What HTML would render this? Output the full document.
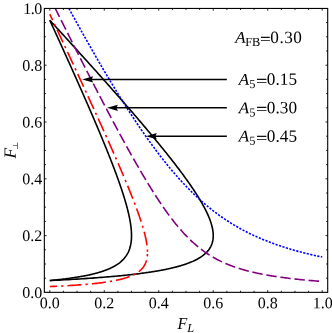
<!DOCTYPE html>
<html><head><meta charset="utf-8"><title>plot</title>
<style>html,body{margin:0;padding:0;background:#fff}svg{display:block}text{font-family:"Liberation Serif","DejaVu Serif",serif;fill:#000}</style></head><body>
<svg width="332" height="333" viewBox="0 0 332 333">
<rect width="332" height="333" fill="#fff"/>
<g fill="none" stroke-width="1.6" stroke-linejoin="round">
<path d="M49.80,20.25 L50.27,21.27 L50.92,22.70 L51.58,24.13 L52.23,25.56 L52.89,26.99 L53.54,28.42 L54.20,29.85 L54.85,31.28 L55.50,32.71 L56.16,34.14 L56.81,35.57 L57.46,37.00 L58.11,38.43 L58.76,39.86 L59.41,41.29 L60.06,42.73 L60.71,44.16 L61.36,45.59 L62.01,47.02 L62.66,48.45 L63.31,49.88 L63.96,51.31 L64.61,52.74 L65.25,54.17 L65.90,55.60 L66.55,57.03 L67.19,58.46 L67.84,59.89 L68.48,61.32 L69.13,62.75 L69.77,64.18 L70.41,65.61 L71.06,67.04 L71.70,68.47 L72.34,69.90 L72.98,71.33 L73.62,72.76 L74.26,74.19 L74.90,75.62 L75.54,77.05 L76.18,78.48 L76.81,79.91 L77.45,81.34 L78.09,82.77 L78.72,84.20 L79.36,85.63 L79.99,87.06 L80.62,88.49 L81.25,89.92 L81.89,91.35 L82.52,92.78 L83.15,94.21 L83.78,95.64 L84.40,97.07 L85.03,98.50 L85.66,99.93 L86.28,101.36 L86.91,102.79 L87.53,104.22 L88.16,105.65 L88.78,107.08 L89.40,108.52 L90.02,109.95 L90.64,111.38 L91.26,112.81 L91.87,114.24 L92.49,115.67 L93.10,117.10 L93.72,118.53 L94.33,119.96 L94.94,121.39 L95.55,122.82 L96.16,124.25 L96.76,125.68 L97.37,127.11 L97.97,128.54 L98.58,129.97 L99.18,131.40 L99.78,132.83 L100.38,134.26 L100.97,135.69 L101.57,137.12 L102.16,138.55 L102.75,139.98 L103.34,141.41 L103.93,142.84 L104.52,144.27 L105.10,145.70 L105.68,147.13 L106.26,148.56 L106.84,149.99 L107.41,151.42 L107.99,152.85 L108.56,154.28 L109.13,155.71 L109.69,157.14 L110.26,158.57 L110.82,160.00 L111.38,161.43 L111.93,162.86 L112.49,164.29 L113.03,165.72 L113.58,167.15 L114.12,168.58 L114.66,170.01 L115.20,171.44 L115.73,172.87 L116.26,174.31 L116.79,175.74 L117.31,177.17 L117.83,178.60 L118.34,180.03 L118.85,181.46 L119.35,182.89 L119.85,184.32 L120.34,185.75 L120.83,187.18 L121.32,188.61 L121.79,190.04 L122.27,191.47 L122.73,192.90 L123.19,194.33 L123.64,195.76 L124.09,197.19 L124.53,198.62 L124.96,200.05 L125.38,201.48 L125.79,202.91 L126.20,204.34 L126.59,205.77 L126.98,207.20 L127.11,207.68 L127.23,208.15 L127.36,208.63 L127.48,209.11 L127.60,209.59 L127.72,210.06 L127.84,210.54 L127.96,211.02 L128.08,211.50 L128.19,211.97 L128.31,212.45 L128.42,212.93 L128.53,213.41 L128.64,213.88 L128.75,214.36 L128.85,214.84 L128.96,215.31 L129.06,215.79 L129.17,216.27 L129.27,216.75 L129.37,217.22 L129.46,217.70 L129.56,218.18 L129.65,218.66 L129.75,219.13 L129.84,219.61 L129.92,220.09 L130.01,220.56 L130.10,221.04 L130.18,221.52 L130.26,222.00 L130.34,222.47 L130.42,222.95 L130.49,223.43 L130.56,223.91 L130.63,224.38 L130.70,224.86 L130.77,225.34 L130.83,225.82 L130.89,226.29 L130.95,226.77 L131.01,227.25 L131.06,227.72 L131.11,228.20 L131.16,228.68 L131.21,229.16 L131.25,229.63 L131.29,230.11 L131.33,230.59 L131.36,231.07 L131.39,231.54 L131.42,232.02 L131.44,232.50 L131.46,232.97 L131.48,233.45 L131.50,233.93 L131.51,234.41 L131.52,234.88 L131.52,235.36 L131.52,235.84 L131.52,236.32 L131.51,236.79 L131.50,237.27 L131.48,237.75 L131.46,238.23 L131.43,238.70 L131.40,239.18 L131.37,239.66 L131.33,240.13 L131.29,240.61 L131.24,241.09 L131.18,241.57 L131.12,242.04 L131.06,242.52 L130.99,243.00 L130.91,243.48 L130.83,243.95 L130.74,244.43 L130.65,244.91 L130.54,245.38 L130.43,245.86 L130.32,246.34 L130.20,246.82 L130.07,247.29 L129.93,247.77 L129.78,248.25 L129.63,248.73 L129.47,249.20 L129.29,249.68 L129.11,250.16 L128.92,250.64 L128.72,251.11 L128.52,251.59 L128.30,252.07 L128.07,252.54 L127.82,253.02 L127.57,253.50 L127.31,253.98 L127.03,254.45 L126.74,254.93 L126.43,255.41 L126.12,255.89 L125.78,256.36 L125.44,256.84 L125.07,257.32 L124.69,257.79 L124.30,258.27 L123.88,258.75 L123.45,259.23 L123.00,259.70 L122.53,260.18 L122.03,260.66 L121.52,261.14 L120.98,261.61 L120.42,262.09 L119.83,262.57 L119.21,263.05 L118.57,263.52 L117.90,264.00 L117.65,264.17 L117.40,264.34 L117.15,264.51 L116.89,264.68 L116.63,264.85 L116.36,265.02 L116.09,265.19 L115.82,265.36 L115.54,265.53 L115.25,265.70 L114.96,265.87 L114.67,266.04 L114.37,266.21 L114.07,266.38 L113.76,266.55 L113.44,266.71 L113.12,266.88 L112.80,267.05 L112.47,267.22 L112.13,267.39 L111.79,267.56 L111.45,267.73 L111.09,267.90 L110.73,268.07 L110.37,268.24 L110.00,268.41 L109.62,268.58 L109.23,268.75 L108.84,268.92 L108.44,269.09 L108.04,269.26 L107.63,269.43 L107.21,269.60 L106.78,269.77 L106.34,269.94 L105.90,270.11 L105.45,270.28 L104.99,270.45 L104.52,270.62 L104.05,270.79 L103.56,270.96 L103.07,271.13 L102.56,271.30 L102.05,271.47 L101.53,271.64 L100.99,271.81 L100.45,271.98 L99.90,272.14 L99.33,272.31 L98.76,272.48 L98.17,272.65 L97.58,272.82 L96.97,272.99 L96.34,273.16 L95.71,273.33 L95.06,273.50 L94.40,273.67 L93.73,273.84 L93.04,274.01 L92.34,274.18 L91.62,274.35 L90.89,274.52 L90.14,274.69 L89.38,274.86 L88.60,275.03 L87.80,275.20 L86.98,275.37 L86.15,275.54 L85.30,275.71 L84.43,275.88 L83.54,276.05 L82.63,276.22 L81.70,276.39 L80.74,276.56 L79.77,276.73 L78.77,276.90 L77.75,277.07 L76.70,277.24 L75.62,277.41 L74.52,277.57 L73.40,277.74 L72.24,277.91 L71.06,278.08 L69.84,278.25 L68.60,278.42 L67.32,278.59 L66.00,278.76 L64.66,278.93 L63.27,279.10 L61.85,279.27 L60.39,279.44 L58.88,279.61 L57.34,279.78 L55.75,279.95 L54.11,280.12 L52.43,280.29 L50.70,280.46 L49.80,280.54" stroke="#000"/>
<path d="M49.80,20.25 L50.73,21.27 L52.04,22.70 L53.35,24.13 L54.66,25.56 L55.97,26.99 L57.28,28.42 L58.59,29.85 L59.90,31.28 L61.20,32.71 L62.51,34.14 L63.82,35.57 L65.12,37.00 L66.42,38.43 L67.73,39.86 L69.03,41.29 L70.33,42.73 L71.63,44.16 L72.93,45.59 L74.23,47.02 L75.53,48.45 L76.82,49.88 L78.12,51.31 L79.41,52.74 L80.71,54.17 L82.00,55.60 L83.29,57.03 L84.59,58.46 L85.88,59.89 L87.17,61.32 L88.45,62.75 L89.74,64.18 L91.03,65.61 L92.31,67.04 L93.60,68.47 L94.88,69.90 L96.16,71.33 L97.44,72.76 L98.72,74.19 L100.00,75.62 L101.28,77.05 L102.55,78.48 L103.83,79.91 L105.10,81.34 L106.37,82.77 L107.64,84.20 L108.91,85.63 L110.18,87.06 L111.44,88.49 L112.71,89.92 L113.97,91.35 L115.23,92.78 L116.49,94.21 L117.75,95.64 L119.01,97.07 L120.26,98.50 L121.52,99.93 L122.77,101.36 L124.02,102.79 L125.27,104.22 L126.51,105.65 L127.76,107.08 L129.00,108.52 L130.24,109.95 L131.48,111.38 L132.71,112.81 L133.94,114.24 L135.18,115.67 L136.40,117.10 L137.63,118.53 L138.86,119.96 L140.08,121.39 L141.30,122.82 L142.51,124.25 L143.73,125.68 L144.94,127.11 L146.15,128.54 L147.35,129.97 L148.55,131.40 L149.75,132.83 L150.95,134.26 L152.14,135.69 L153.33,137.12 L154.52,138.55 L155.70,139.98 L156.88,141.41 L158.06,142.84 L159.23,144.27 L160.40,145.70 L161.56,147.13 L162.72,148.56 L163.88,149.99 L165.03,151.42 L166.18,152.85 L167.32,154.28 L168.46,155.71 L169.59,157.14 L170.72,158.57 L171.84,160.00 L172.95,161.43 L174.07,162.86 L175.17,164.29 L176.27,165.72 L177.36,167.15 L178.45,168.58 L179.53,170.01 L180.60,171.44 L181.67,172.87 L182.73,174.31 L183.78,175.74 L184.82,177.17 L185.85,178.60 L186.88,180.03 L187.90,181.46 L188.90,182.89 L189.90,184.32 L190.89,185.75 L191.87,187.18 L192.83,188.61 L193.79,190.04 L194.73,191.47 L195.66,192.90 L196.58,194.33 L197.49,195.76 L198.38,197.19 L199.25,198.62 L200.11,200.05 L200.96,201.48 L201.79,202.91 L202.60,204.34 L203.39,205.77 L204.16,207.20 L204.41,207.68 L204.66,208.15 L204.91,208.63 L205.16,209.11 L205.40,209.59 L205.64,210.06 L205.88,210.54 L206.12,211.02 L206.35,211.50 L206.58,211.97 L206.81,212.45 L207.04,212.93 L207.26,213.41 L207.48,213.88 L207.70,214.36 L207.91,214.84 L208.12,215.31 L208.33,215.79 L208.53,216.27 L208.73,216.75 L208.93,217.22 L209.13,217.70 L209.32,218.18 L209.51,218.66 L209.69,219.13 L209.87,219.61 L210.05,220.09 L210.22,220.56 L210.39,221.04 L210.56,221.52 L210.72,222.00 L210.88,222.47 L211.03,222.95 L211.18,223.43 L211.32,223.91 L211.47,224.38 L211.60,224.86 L211.73,225.34 L211.86,225.82 L211.98,226.29 L212.10,226.77 L212.21,227.25 L212.32,227.72 L212.42,228.20 L212.52,228.68 L212.61,229.16 L212.70,229.63 L212.78,230.11 L212.85,230.59 L212.92,231.07 L212.98,231.54 L213.04,232.02 L213.09,232.50 L213.13,232.97 L213.16,233.45 L213.19,233.93 L213.22,234.41 L213.23,234.88 L213.24,235.36 L213.24,235.84 L213.23,236.32 L213.22,236.79 L213.19,237.27 L213.16,237.75 L213.12,238.23 L213.07,238.70 L213.01,239.18 L212.94,239.66 L212.86,240.13 L212.77,240.61 L212.68,241.09 L212.57,241.57 L212.45,242.04 L212.32,242.52 L212.18,243.00 L212.02,243.48 L211.86,243.95 L211.68,244.43 L211.49,244.91 L211.29,245.38 L211.07,245.86 L210.84,246.34 L210.59,246.82 L210.33,247.29 L210.06,247.77 L209.76,248.25 L209.46,248.73 L209.13,249.20 L208.79,249.68 L208.43,250.16 L208.05,250.64 L207.65,251.11 L207.23,251.59 L206.79,252.07 L206.33,252.54 L205.85,253.02 L205.34,253.50 L204.81,253.98 L204.26,254.45 L203.67,254.93 L203.07,255.41 L202.43,255.89 L201.77,256.36 L201.07,256.84 L200.34,257.32 L199.59,257.79 L198.79,258.27 L197.96,258.75 L197.10,259.23 L196.20,259.70 L195.25,260.18 L194.26,260.66 L193.23,261.14 L192.16,261.61 L191.03,262.09 L189.86,262.57 L188.63,263.05 L187.34,263.52 L186.00,264.00 L185.51,264.17 L185.01,264.34 L184.50,264.51 L183.98,264.68 L183.46,264.85 L182.93,265.02 L182.38,265.19 L181.83,265.36 L181.27,265.53 L180.70,265.70 L180.13,265.87 L179.54,266.04 L178.94,266.21 L178.33,266.38 L177.71,266.55 L177.09,266.71 L176.45,266.88 L175.80,267.05 L175.14,267.22 L174.47,267.39 L173.78,267.56 L173.09,267.73 L172.38,267.90 L171.67,268.07 L170.94,268.24 L170.19,268.41 L169.44,268.58 L168.67,268.75 L167.88,268.92 L167.09,269.09 L166.28,269.26 L165.45,269.43 L164.61,269.60 L163.76,269.77 L162.89,269.94 L162.00,270.11 L161.10,270.28 L160.18,270.45 L159.24,270.62 L158.29,270.79 L157.32,270.96 L156.33,271.13 L155.33,271.30 L154.30,271.47 L153.25,271.64 L152.19,271.81 L151.10,271.98 L150.00,272.14 L148.87,272.31 L147.72,272.48 L146.55,272.65 L145.35,272.82 L144.13,272.99 L142.89,273.16 L141.62,273.33 L140.33,273.50 L139.00,273.67 L137.66,273.84 L136.28,274.01 L134.88,274.18 L133.44,274.35 L131.98,274.52 L130.48,274.69 L128.95,274.86 L127.39,275.03 L125.80,275.20 L124.17,275.37 L122.50,275.54 L120.80,275.71 L119.06,275.88 L117.28,276.05 L115.46,276.22 L113.59,276.39 L111.69,276.56 L109.73,276.73 L107.74,276.90 L105.69,277.07 L103.60,277.24 L101.45,277.41 L99.25,277.57 L97.00,277.74 L94.69,277.91 L92.32,278.08 L89.89,278.25 L87.39,278.42 L84.83,278.59 L82.21,278.76 L79.51,278.93 L76.74,279.10 L73.90,279.27 L70.97,279.44 L67.97,279.61 L64.88,279.78 L61.70,279.95 L58.43,280.12 L55.06,280.29 L51.59,280.46 L49.80,280.54" stroke="#000"/>
<path d="M68.87,8.40 L69.65,9.83 L70.43,11.26 L71.22,12.69 L72.00,14.12 L72.79,15.55 L73.58,16.98 L74.37,18.41 L75.16,19.84 L75.95,21.27 L76.74,22.70 L77.53,24.13 L78.33,25.56 L79.12,26.99 L79.92,28.42 L80.71,29.85 L81.51,31.28 L82.31,32.71 L83.11,34.14 L83.92,35.57 L84.72,37.00 L85.53,38.43 L86.33,39.86 L87.14,41.29 L87.95,42.73 L88.76,44.16 L89.57,45.59 L90.39,47.02 L91.20,48.45 L92.02,49.88 L92.84,51.31 L93.66,52.74 L94.48,54.17 L95.30,55.60 L96.13,57.03 L96.95,58.46 L97.78,59.89 L98.61,61.32 L99.44,62.75 L100.28,64.18 L101.11,65.61 L101.95,67.04 L102.79,68.47 L103.63,69.90 L104.48,71.33 L105.32,72.76 L106.17,74.19 L107.02,75.62 L107.87,77.05 L108.72,78.48 L109.58,79.91 L110.44,81.34 L111.30,82.77 L112.16,84.20 L113.03,85.63 L113.90,87.06 L114.77,88.49 L115.64,89.92 L116.52,91.35 L117.40,92.78 L118.28,94.21 L119.16,95.64 L120.05,97.07 L120.94,98.50 L121.83,99.93 L122.73,101.36 L123.63,102.79 L124.53,104.22 L125.44,105.65 L126.35,107.08 L127.26,108.52 L128.18,109.95 L129.10,111.38 L130.02,112.81 L130.95,114.24 L131.88,115.67 L132.82,117.10 L133.76,118.53 L134.70,119.96 L135.65,121.39 L136.61,122.82 L137.56,124.25 L138.52,125.68 L139.49,127.11 L140.46,128.54 L141.44,129.97 L142.42,131.40 L143.41,132.83 L144.40,134.26 L145.40,135.69 L146.41,137.12 L147.42,138.55 L148.43,139.98 L149.45,141.41 L150.48,142.84 L151.52,144.27 L152.56,145.70 L153.61,147.13 L154.67,148.56 L155.73,149.99 L156.80,151.42 L157.88,152.85 L158.97,154.28 L160.07,155.71 L161.17,157.14 L162.28,158.57 L163.41,160.00 L164.54,161.43 L165.68,162.86 L166.83,164.29 L168.00,165.72 L169.17,167.15 L170.36,168.58 L171.55,170.01 L172.76,171.44 L173.99,172.87 L175.22,174.31 L176.47,175.74 L177.73,177.17 L179.01,178.60 L180.30,180.03 L181.61,181.46 L182.93,182.89 L184.27,184.32 L185.63,185.75 L187.00,187.18 L188.40,188.61 L189.81,190.04 L191.25,191.47 L192.71,192.90 L194.18,194.33 L195.69,195.76 L197.22,197.19 L198.77,198.62 L200.35,200.05 L201.96,201.48 L203.59,202.91 L205.26,204.34 L206.96,205.77 L208.70,207.20 L209.29,207.68 L209.88,208.15 L210.47,208.63 L211.07,209.11 L211.68,209.59 L212.28,210.06 L212.90,210.54 L213.51,211.02 L214.14,211.50 L214.76,211.97 L215.39,212.45 L216.03,212.93 L216.67,213.41 L217.31,213.88 L217.96,214.36 L218.62,214.84 L219.28,215.31 L219.95,215.79 L220.62,216.27 L221.30,216.75 L221.98,217.22 L222.67,217.70 L223.37,218.18 L224.07,218.66 L224.77,219.13 L225.49,219.61 L226.21,220.09 L226.93,220.56 L227.67,221.04 L228.41,221.52 L229.15,222.00 L229.91,222.47 L230.67,222.95 L231.44,223.43 L232.21,223.91 L233.00,224.38 L233.79,224.86 L234.59,225.34 L235.40,225.82 L236.21,226.29 L237.04,226.77 L237.87,227.25 L238.71,227.72 L239.56,228.20 L240.43,228.68 L241.30,229.16 L242.18,229.63 L243.07,230.11 L243.97,230.59 L244.88,231.07 L245.80,231.54 L246.73,232.02 L247.67,232.50 L248.63,232.97 L249.60,233.45 L250.57,233.93 L251.57,234.41 L252.57,234.88 L253.59,235.36 L254.62,235.84 L255.66,236.32 L256.72,236.79 L257.79,237.27 L258.88,237.75 L259.98,238.23 L261.10,238.70 L262.23,239.18 L263.38,239.66 L264.55,240.13 L265.73,240.61 L266.93,241.09 L268.15,241.57 L269.39,242.04 L270.65,242.52 L271.93,243.00 L273.22,243.48 L274.54,243.95 L275.88,244.43 L277.25,244.91 L278.63,245.38 L280.05,245.86 L281.48,246.34 L282.94,246.82 L284.43,247.29 L285.94,247.77 L287.48,248.25 L289.05,248.73 L290.65,249.20 L292.28,249.68 L293.94,250.16 L295.63,250.64 L297.36,251.11 L299.12,251.59 L300.92,252.07 L302.76,252.54 L304.64,253.02 L306.55,253.50 L308.51,253.98 L310.51,254.45 L312.56,254.93 L314.65,255.41 L316.80,255.89 L318.99,256.36 L321.23,256.84 L322.20,257.04" stroke="#0000ff" stroke-dasharray="2.2 1.41" stroke-dashoffset="0"/>
<path d="M55.25,8.40 L55.96,9.83 L56.68,11.26 L57.39,12.69 L58.10,14.12 L58.82,15.55 L59.53,16.98 L60.25,18.41 L60.96,19.84 L61.68,21.27 L62.40,22.70 L63.11,24.13 L63.83,25.56 L64.55,26.99 L65.26,28.42 L65.98,29.85 L66.70,31.28 L67.42,32.71 L68.14,34.14 L68.86,35.57 L69.58,37.00 L70.30,38.43 L71.02,39.86 L71.74,41.29 L72.46,42.73 L73.18,44.16 L73.90,45.59 L74.62,47.02 L75.35,48.45 L76.07,49.88 L76.79,51.31 L77.52,52.74 L78.24,54.17 L78.97,55.60 L79.69,57.03 L80.42,58.46 L81.15,59.89 L81.87,61.32 L82.60,62.75 L83.33,64.18 L84.06,65.61 L84.79,67.04 L85.52,68.47 L86.25,69.90 L86.98,71.33 L87.71,72.76 L88.44,74.19 L89.17,75.62 L89.91,77.05 L90.64,78.48 L91.38,79.91 L92.11,81.34 L92.85,82.77 L93.58,84.20 L94.32,85.63 L95.06,87.06 L95.80,88.49 L96.54,89.92 L97.28,91.35 L98.02,92.78 L98.76,94.21 L99.50,95.64 L100.25,97.07 L100.99,98.50 L101.74,99.93 L102.48,101.36 L103.23,102.79 L103.98,104.22 L104.73,105.65 L105.48,107.08 L106.23,108.52 L106.98,109.95 L107.73,111.38 L108.49,112.81 L109.24,114.24 L110.00,115.67 L110.75,117.10 L111.51,118.53 L112.27,119.96 L113.03,121.39 L113.80,122.82 L114.56,124.25 L115.32,125.68 L116.09,127.11 L116.86,128.54 L117.63,129.97 L118.40,131.40 L119.17,132.83 L119.94,134.26 L120.72,135.69 L121.50,137.12 L122.27,138.55 L123.05,139.98 L123.84,141.41 L124.62,142.84 L125.41,144.27 L126.19,145.70 L126.98,147.13 L127.77,148.56 L128.57,149.99 L129.36,151.42 L130.16,152.85 L130.96,154.28 L131.77,155.71 L132.57,157.14 L133.38,158.57 L134.19,160.00 L135.01,161.43 L135.82,162.86 L136.64,164.29 L137.46,165.72 L138.29,167.15 L139.12,168.58 L139.95,170.01 L140.78,171.44 L141.62,172.87 L142.47,174.31 L143.31,175.74 L144.16,177.17 L145.02,178.60 L145.88,180.03 L146.74,181.46 L147.61,182.89 L148.48,184.32 L149.36,185.75 L150.24,187.18 L151.13,188.61 L152.02,190.04 L152.92,191.47 L153.83,192.90 L154.74,194.33 L155.66,195.76 L156.59,197.19 L157.52,198.62 L158.46,200.05 L159.41,201.48 L160.37,202.91 L161.34,204.34 L162.31,205.77 L163.30,207.20 L163.63,207.68 L163.96,208.15 L164.30,208.63 L164.63,209.11 L164.97,209.59 L165.31,210.06 L165.64,210.54 L165.98,211.02 L166.32,211.50 L166.67,211.97 L167.01,212.45 L167.36,212.93 L167.70,213.41 L168.05,213.88 L168.40,214.36 L168.75,214.84 L169.10,215.31 L169.46,215.79 L169.81,216.27 L170.17,216.75 L170.53,217.22 L170.89,217.70 L171.25,218.18 L171.61,218.66 L171.98,219.13 L172.35,219.61 L172.72,220.09 L173.09,220.56 L173.46,221.04 L173.84,221.52 L174.21,222.00 L174.59,222.47 L174.97,222.95 L175.36,223.43 L175.74,223.91 L176.13,224.38 L176.52,224.86 L176.91,225.34 L177.30,225.82 L177.70,226.29 L178.10,226.77 L178.50,227.25 L178.91,227.72 L179.31,228.20 L179.72,228.68 L180.13,229.16 L180.55,229.63 L180.97,230.11 L181.39,230.59 L181.81,231.07 L182.24,231.54 L182.67,232.02 L183.10,232.50 L183.54,232.97 L183.98,233.45 L184.42,233.93 L184.87,234.41 L185.32,234.88 L185.77,235.36 L186.23,235.84 L186.69,236.32 L187.16,236.79 L187.63,237.27 L188.10,237.75 L188.58,238.23 L189.06,238.70 L189.55,239.18 L190.04,239.66 L190.54,240.13 L191.04,240.61 L191.55,241.09 L192.06,241.57 L192.58,242.04 L193.10,242.52 L193.63,243.00 L194.16,243.48 L194.70,243.95 L195.25,244.43 L195.80,244.91 L196.36,245.38 L196.93,245.86 L197.50,246.34 L198.08,246.82 L198.67,247.29 L199.27,247.77 L199.87,248.25 L200.48,248.73 L201.10,249.20 L201.73,249.68 L202.37,250.16 L203.02,250.64 L203.67,251.11 L204.34,251.59 L205.02,252.07 L205.71,252.54 L206.41,253.02 L207.12,253.50 L207.84,253.98 L208.58,254.45 L209.32,254.93 L210.09,255.41 L210.86,255.89 L211.65,256.36 L212.46,256.84 L213.28,257.32 L214.12,257.79 L214.97,258.27 L215.84,258.75 L216.73,259.23 L217.64,259.70 L218.57,260.18 L219.52,260.66 L220.50,261.14 L221.49,261.61 L222.51,262.09 L223.56,262.57 L224.63,263.05 L225.73,263.52 L226.86,264.00 L227.27,264.17 L227.68,264.34 L228.10,264.51 L228.52,264.68 L228.94,264.85 L229.37,265.02 L229.81,265.19 L230.25,265.36 L230.69,265.53 L231.14,265.70 L231.59,265.87 L232.04,266.04 L232.51,266.21 L232.97,266.38 L233.44,266.55 L233.92,266.71 L234.40,266.88 L234.89,267.05 L235.38,267.22 L235.88,267.39 L236.39,267.56 L236.90,267.73 L237.41,267.90 L237.93,268.07 L238.46,268.24 L239.00,268.41 L239.54,268.58 L240.08,268.75 L240.64,268.92 L241.20,269.09 L241.77,269.26 L242.34,269.43 L242.93,269.60 L243.52,269.77 L244.11,269.94 L244.72,270.11 L245.33,270.28 L245.96,270.45 L246.59,270.62 L247.22,270.79 L247.87,270.96 L248.53,271.13 L249.20,271.30 L249.87,271.47 L250.56,271.64 L251.25,271.81 L251.96,271.98 L252.67,272.14 L253.40,272.31 L254.14,272.48 L254.89,272.65 L255.65,272.82 L256.42,272.99 L257.20,273.16 L258.00,273.33 L258.81,273.50 L259.63,273.67 L260.47,273.84 L261.32,274.01 L262.19,274.18 L263.07,274.35 L263.96,274.52 L264.87,274.69 L265.80,274.86 L266.74,275.03 L267.70,275.20 L268.68,275.37 L269.68,275.54 L270.69,275.71 L271.72,275.88 L272.78,276.05 L273.85,276.22 L274.94,276.39 L276.06,276.56 L277.20,276.73 L278.36,276.90 L279.55,277.07 L280.76,277.24 L281.99,277.41 L283.26,277.57 L284.55,277.74 L285.86,277.91 L287.21,278.08 L288.59,278.25 L290.00,278.42 L291.44,278.59 L292.92,278.76 L294.43,278.93 L295.97,279.10 L297.56,279.27 L299.18,279.44 L300.85,279.61 L302.56,279.78 L304.31,279.95 L306.11,280.12 L307.96,280.29 L309.85,280.46 L311.80,280.63 L313.81,280.80 L315.87,280.97 L317.99,281.14 L320.17,281.31 L322.20,281.46" stroke="#800080" stroke-dasharray="10.45 3.75" stroke-dashoffset="1.0"/>
<path d="M49.80,14.20 L50.44,15.55 L51.11,16.98 L51.78,18.41 L52.45,19.84 L53.12,21.27 L53.79,22.70 L54.46,24.13 L55.13,25.56 L55.80,26.99 L56.47,28.42 L57.14,29.85 L57.81,31.28 L58.48,32.71 L59.15,34.14 L59.82,35.57 L60.49,37.00 L61.16,38.43 L61.83,39.86 L62.49,41.29 L63.16,42.73 L63.83,44.16 L64.50,45.59 L65.17,47.02 L65.83,48.45 L66.50,49.88 L67.17,51.31 L67.83,52.74 L68.50,54.17 L69.17,55.60 L69.83,57.03 L70.50,58.46 L71.17,59.89 L71.83,61.32 L72.50,62.75 L73.16,64.18 L73.82,65.61 L74.49,67.04 L75.15,68.47 L75.82,69.90 L76.48,71.33 L77.14,72.76 L77.81,74.19 L78.47,75.62 L79.13,77.05 L79.79,78.48 L80.45,79.91 L81.12,81.34 L81.78,82.77 L82.44,84.20 L83.10,85.63 L83.76,87.06 L84.42,88.49 L85.08,89.92 L85.73,91.35 L86.39,92.78 L87.05,94.21 L87.71,95.64 L88.37,97.07 L89.02,98.50 L89.68,99.93 L90.33,101.36 L90.99,102.79 L91.64,104.22 L92.30,105.65 L92.95,107.08 L93.61,108.52 L94.26,109.95 L94.91,111.38 L95.56,112.81 L96.21,114.24 L96.87,115.67 L97.52,117.10 L98.16,118.53 L98.81,119.96 L99.46,121.39 L100.11,122.82 L100.76,124.25 L101.40,125.68 L102.05,127.11 L102.69,128.54 L103.34,129.97 L103.98,131.40 L104.63,132.83 L105.27,134.26 L105.91,135.69 L106.55,137.12 L107.19,138.55 L107.83,139.98 L108.47,141.41 L109.10,142.84 L109.74,144.27 L110.37,145.70 L111.01,147.13 L111.64,148.56 L112.27,149.99 L112.90,151.42 L113.53,152.85 L114.16,154.28 L114.79,155.71 L115.41,157.14 L116.04,158.57 L116.66,160.00 L117.28,161.43 L117.90,162.86 L118.52,164.29 L119.14,165.72 L119.76,167.15 L120.37,168.58 L120.99,170.01 L121.60,171.44 L122.21,172.87 L122.81,174.31 L123.42,175.74 L124.02,177.17 L124.62,178.60 L125.22,180.03 L125.82,181.46 L126.42,182.89 L127.01,184.32 L127.60,185.75 L128.19,187.18 L128.77,188.61 L129.35,190.04 L129.93,191.47 L130.51,192.90 L131.08,194.33 L131.65,195.76 L132.21,197.19 L132.78,198.62 L133.33,200.05 L133.89,201.48 L134.44,202.91 L134.98,204.34 L135.52,205.77 L136.06,207.20 L136.24,207.68 L136.41,208.15 L136.59,208.63 L136.77,209.11 L136.94,209.59 L137.12,210.06 L137.29,210.54 L137.47,211.02 L137.64,211.50 L137.81,211.97 L137.98,212.45 L138.15,212.93 L138.32,213.41 L138.49,213.88 L138.66,214.36 L138.83,214.84 L139.00,215.31 L139.16,215.79 L139.33,216.27 L139.49,216.75 L139.66,217.22 L139.82,217.70 L139.98,218.18 L140.14,218.66 L140.30,219.13 L140.46,219.61 L140.62,220.09 L140.78,220.56 L140.94,221.04 L141.09,221.52 L141.25,222.00 L141.40,222.47 L141.55,222.95 L141.71,223.43 L141.86,223.91 L142.01,224.38 L142.16,224.86 L142.30,225.34 L142.45,225.82 L142.59,226.29 L142.74,226.77 L142.88,227.25 L143.02,227.72 L143.16,228.20 L143.30,228.68 L143.44,229.16 L143.57,229.63 L143.71,230.11 L143.84,230.59 L143.97,231.07 L144.10,231.54 L144.23,232.02 L144.36,232.50 L144.48,232.97 L144.61,233.45 L144.73,233.93 L144.85,234.41 L144.97,234.88 L145.08,235.36 L145.20,235.84 L145.31,236.32 L145.42,236.79 L145.53,237.27 L145.63,237.75 L145.74,238.23 L145.84,238.70 L145.94,239.18 L146.04,239.66 L146.13,240.13 L146.23,240.61 L146.32,241.09 L146.40,241.57 L146.49,242.04 L146.57,242.52 L146.65,243.00 L146.72,243.48 L146.80,243.95 L146.87,244.43 L146.93,244.91 L147.00,245.38 L147.06,245.86 L147.11,246.34 L147.17,246.82 L147.22,247.29 L147.26,247.77 L147.30,248.25 L147.34,248.73 L147.37,249.20 L147.40,249.68 L147.43,250.16 L147.45,250.64 L147.46,251.11 L147.47,251.59 L147.48,252.07 L147.48,252.24" stroke="#ff0000" stroke-dasharray="14.02 4.10 2.25 4.10" stroke-dashoffset="7.4"/>
<path d="M49.80,286.60 L50.55,286.57 L54.22,286.40 L57.68,286.23 L60.95,286.06 L64.05,285.89 L66.99,285.72 L69.78,285.55 L72.43,285.38 L74.95,285.21 L77.35,285.04 L79.63,284.87 L81.82,284.70 L83.90,284.53 L85.90,284.36 L87.81,284.19 L89.63,284.02 L91.39,283.85 L93.07,283.68 L94.68,283.51 L96.23,283.34 L97.72,283.17 L99.15,283.00 L100.53,282.84 L101.86,282.67 L103.14,282.50 L104.38,282.33 L105.57,282.16 L106.72,281.99 L107.82,281.82 L108.90,281.65 L109.93,281.48 L110.94,281.31 L111.91,281.14 L112.84,280.97 L113.75,280.80 L114.63,280.63 L115.48,280.46 L116.31,280.29 L117.11,280.12 L117.89,279.95 L118.64,279.78 L119.38,279.61 L120.09,279.44 L120.78,279.27 L121.45,279.10 L122.10,278.93 L122.73,278.76 L123.35,278.59 L123.95,278.42 L124.53,278.25 L125.10,278.08 L125.65,277.91 L126.18,277.74 L126.71,277.57 L127.22,277.41 L127.71,277.24 L128.20,277.07 L128.67,276.90 L129.13,276.73 L129.57,276.56 L130.01,276.39 L130.43,276.22 L130.85,276.05 L131.25,275.88 L131.65,275.71 L132.03,275.54 L132.41,275.37 L132.78,275.20 L133.13,275.03 L133.48,274.86 L133.82,274.69 L134.16,274.52 L134.48,274.35 L134.80,274.18 L135.11,274.01 L135.41,273.84 L135.71,273.67 L136.00,273.50 L136.28,273.33 L136.56,273.16 L136.83,272.99 L137.09,272.82 L137.35,272.65 L137.60,272.48 L137.85,272.31 L138.09,272.14 L138.33,271.98 L138.56,271.81 L138.78,271.64 L139.01,271.47 L139.22,271.30 L139.43,271.13 L139.64,270.96 L139.84,270.79 L140.04,270.62 L140.23,270.45 L140.42,270.28 L140.60,270.11 L140.79,269.94 L140.96,269.77 L141.14,269.60 L141.30,269.43 L141.47,269.26 L141.63,269.09 L141.79,268.92 L141.95,268.75 L142.10,268.58 L142.25,268.41 L142.39,268.24 L142.53,268.07 L142.67,267.90 L142.81,267.73 L142.94,267.56 L143.07,267.39 L143.20,267.22 L143.32,267.05 L143.44,266.88 L143.56,266.71 L143.68,266.55 L143.79,266.38 L143.90,266.21 L144.01,266.04 L144.12,265.87 L144.22,265.70 L144.32,265.53 L144.42,265.36 L144.52,265.19 L144.62,265.02 L144.71,264.85 L144.80,264.68 L144.89,264.51 L144.97,264.34 L145.06,264.17 L145.14,264.00 L145.36,263.52 L145.57,263.05 L145.76,262.57 L145.94,262.09 L146.11,261.61 L146.26,261.14 L146.41,260.66 L146.54,260.18 L146.66,259.70 L146.77,259.23 L146.87,258.75 L146.96,258.27 L147.05,257.79 L147.12,257.32 L147.19,256.84 L147.25,256.36 L147.30,255.89 L147.35,255.41 L147.38,254.93 L147.41,254.45 L147.44,253.98 L147.46,253.50 L147.47,253.02 L147.48,252.54 L147.48,252.24" stroke="#ff0000" stroke-dasharray="14.02 4.10 2.25 4.10" stroke-dashoffset="6.8"/>
</g>
<g stroke="#000" stroke-width="1.5" fill="#000">
<line x1="88.22" y1="79.40" x2="226.86" y2="79.40"/>
<path stroke="none" d="M82.22,79.40 L93.12,76.30 L91.72,79.40 L93.12,82.50 Z"/>
<line x1="113.00" y1="107.80" x2="226.86" y2="107.80"/>
<path stroke="none" d="M107.00,107.80 L117.90,104.70 L116.50,107.80 L117.90,110.90 Z"/>
<line x1="151.90" y1="136.20" x2="226.86" y2="136.20"/>
<path stroke="none" d="M145.90,136.20 L156.80,133.10 L155.40,136.20 L156.80,139.30 Z"/>
</g>
<g stroke="#000" stroke-width="1.1" fill="none">
<rect x="44.35" y="8.45" width="283.35" height="283.90"/>
</g>
<path d="M49.80,292.35 v-2.20 M49.80,8.45 v2.20 M63.42,292.35 v-1.60 M63.42,8.45 v1.60 M44.35,278.20 h1.60 M327.70,278.20 h-1.60 M77.04,292.35 v-1.60 M77.04,8.45 v1.60 M44.35,264.00 h1.60 M327.70,264.00 h-1.60 M90.66,292.35 v-1.60 M90.66,8.45 v1.60 M44.35,249.80 h1.60 M327.70,249.80 h-1.60 M104.28,292.35 v-2.20 M104.28,8.45 v2.20 M44.35,235.60 h2.20 M327.70,235.60 h-2.20 M117.90,292.35 v-1.60 M117.90,8.45 v1.60 M44.35,221.40 h1.60 M327.70,221.40 h-1.60 M131.52,292.35 v-1.60 M131.52,8.45 v1.60 M44.35,207.20 h1.60 M327.70,207.20 h-1.60 M145.14,292.35 v-1.60 M145.14,8.45 v1.60 M44.35,193.00 h1.60 M327.70,193.00 h-1.60 M158.76,292.35 v-2.20 M158.76,8.45 v2.20 M44.35,178.80 h2.20 M327.70,178.80 h-2.20 M172.38,292.35 v-1.60 M172.38,8.45 v1.60 M44.35,164.60 h1.60 M327.70,164.60 h-1.60 M186.00,292.35 v-1.60 M186.00,8.45 v1.60 M44.35,150.40 h1.60 M327.70,150.40 h-1.60 M199.62,292.35 v-1.60 M199.62,8.45 v1.60 M44.35,136.20 h1.60 M327.70,136.20 h-1.60 M213.24,292.35 v-2.20 M213.24,8.45 v2.20 M44.35,122.00 h2.20 M327.70,122.00 h-2.20 M226.86,292.35 v-1.60 M226.86,8.45 v1.60 M44.35,107.80 h1.60 M327.70,107.80 h-1.60 M240.48,292.35 v-1.60 M240.48,8.45 v1.60 M44.35,93.60 h1.60 M327.70,93.60 h-1.60 M254.10,292.35 v-1.60 M254.10,8.45 v1.60 M44.35,79.40 h1.60 M327.70,79.40 h-1.60 M267.72,292.35 v-2.20 M267.72,8.45 v2.20 M44.35,65.20 h2.20 M327.70,65.20 h-2.20 M281.34,292.35 v-1.60 M281.34,8.45 v1.60 M44.35,51.00 h1.60 M327.70,51.00 h-1.60 M294.96,292.35 v-1.60 M294.96,8.45 v1.60 M44.35,36.80 h1.60 M327.70,36.80 h-1.60 M308.58,292.35 v-1.60 M308.58,8.45 v1.60 M44.35,22.60 h1.60 M327.70,22.60 h-1.60 M322.20,292.35 v-2.20 M322.20,8.45 v2.20" stroke="#000" stroke-width="0.85" fill="none"/>
<g font-size="16">
<text x="49.80" y="308.30" text-anchor="middle" transform="rotate(0.05,49.80,308.30)">0.0</text>
<text x="42.30" y="297.90" text-anchor="end" transform="rotate(0.05,42.30,297.90)">0.0</text>
<text x="104.28" y="308.30" text-anchor="middle" transform="rotate(0.05,104.28,308.30)">0.2</text>
<text x="42.30" y="241.10" text-anchor="end" transform="rotate(0.05,42.30,241.10)">0.2</text>
<text x="158.76" y="308.30" text-anchor="middle" transform="rotate(0.05,158.76,308.30)">0.4</text>
<text x="42.30" y="184.30" text-anchor="end" transform="rotate(0.05,42.30,184.30)">0.4</text>
<text x="213.24" y="308.30" text-anchor="middle" transform="rotate(0.05,213.24,308.30)">0.6</text>
<text x="42.30" y="127.50" text-anchor="end" transform="rotate(0.05,42.30,127.50)">0.6</text>
<text x="267.72" y="308.30" text-anchor="middle" transform="rotate(0.05,267.72,308.30)">0.8</text>
<text x="42.30" y="70.70" text-anchor="end" transform="rotate(0.05,42.30,70.70)">0.8</text>
<text x="322.70" y="308.30" text-anchor="middle" transform="rotate(0.05,322.70,308.30)">1.0</text>
<text x="41.40" y="13.90" text-anchor="end" transform="rotate(0.05,42.30,13.90)"><tspan dx="0.9">1</tspan><tspan dx="-0.45">.</tspan><tspan dx="-0.45">0</tspan></text>
</g>
<text x="177.5" y="329.2" font-size="16"><tspan font-style="italic">F</tspan><tspan font-size="12.4" font-style="italic" dy="2.4">L</tspan></text>
<g transform="translate(15.7,158.5) rotate(-89.8)"><text x="0" y="0" font-size="17.2" font-style="italic">F</text><text transform="translate(8.5,1.9) scale(1.13,0.88)" font-size="8" font-family="DejaVu Sans,sans-serif">⊥</text></g>
<text transform="translate(235.13,42.80) rotate(0.05) scale(1.04,1)" font-size="16.3" font-style="italic">A</text><text transform="translate(245.21,46.10) rotate(0.05)" font-size="12.4">FB</text><text transform="translate(260.30,44.20) scale(1.129,0.92)" x="0" y="0" font-size="16" stroke="#000" stroke-width="0.35">=</text><text transform="translate(270.35,42.90) rotate(0.05)" font-size="17.2" letter-spacing="0.45">0.30</text>
<text transform="translate(238.83,84.75) rotate(0.05) scale(1.04,1)" font-size="16.3" font-style="italic">A</text><text transform="translate(249.30,88.05) rotate(0.05)" font-size="12.4">5</text><text transform="translate(256.14,85.78) scale(1.196,0.92)" x="0" y="0" font-size="16" stroke="#000" stroke-width="0.35">=</text><text transform="translate(266.75,84.85) rotate(0.05)" font-size="17.2" letter-spacing="0.10">0.15</text>
<text transform="translate(238.83,113.15) rotate(0.05) scale(1.04,1)" font-size="16.3" font-style="italic">A</text><text transform="translate(249.30,116.45) rotate(0.05)" font-size="12.4">5</text><text transform="translate(256.14,114.18) scale(1.196,0.92)" x="0" y="0" font-size="16" stroke="#000" stroke-width="0.35">=</text><text transform="translate(266.75,113.25) rotate(0.05)" font-size="17.2" letter-spacing="0.10">0.30</text>
<text transform="translate(238.83,141.55) rotate(0.05) scale(1.04,1)" font-size="16.3" font-style="italic">A</text><text transform="translate(249.30,144.85) rotate(0.05)" font-size="12.4">5</text><text transform="translate(256.14,142.58) scale(1.196,0.92)" x="0" y="0" font-size="16" stroke="#000" stroke-width="0.35">=</text><text transform="translate(266.75,141.65) rotate(0.05)" font-size="17.2" letter-spacing="0.10">0.45</text>
</svg></body></html>
